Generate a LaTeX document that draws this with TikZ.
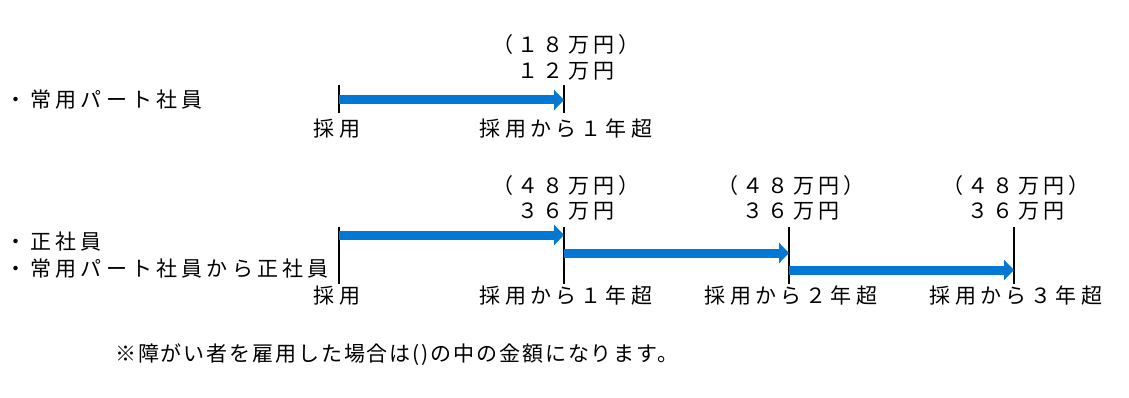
\documentclass[tikz,border=0pt]{standalone}
\usepackage{fontspec}
\setmainfont{Noto Sans CJK JP}[LetterSpace=20]
\newfontfamily\notefont{Noto Sans CJK JP}[LetterSpace=9]
\usetikzlibrary{arrows.meta}
\definecolor{arrowblue}{HTML}{0078D4}
\tikzset{
  lbl/.style={inner sep=0pt, text height=0.88em, text depth=0.12em, font=\fontsize{21}{21}\selectfont},
  tick/.style={line width=2pt, black},
  flow/.style={line width=9pt, arrowblue, -{Triangle[width=20pt,length=10pt]}, shorten >=0pt},
}
\begin{document}
\begin{tikzpicture}[x=1pt,y=-1pt]
\useasboundingbox[fill=white] (0,0) rectangle (1129,398);
% ---- row 1
\node[lbl, anchor=west] (r1name) at (5,104) {・常用パート社員};
\coordinate (a1t) at (339,85); \coordinate (a1b) at (339,113);
\coordinate (b1t) at (564,85); \coordinate (b1b) at (564,113);
\draw[tick] (a1t) -- (a1b);
\draw[tick] (b1t) -- (b1b);
\coordinate (a1m) at (339,100); \coordinate (b1m) at (564,100);
\draw[flow] (a1m) -- (b1m);
\node[lbl] (r1amt2) at (566,49) {（１８万円）};
\node[lbl] (r1amt1) at (566,75) {１２万円};
\node[lbl] (r1s) at (337,133) {採用};
\node[lbl] (r1e) at (566,133) {採用から１年超};
% ---- row 2
\node[lbl, anchor=west] (r2name1) at (5,246) {・正社員};
\node[lbl, anchor=west] (r2name2) at (5,273) {・常用パート社員から正社員};
\coordinate (a2t) at (339,227); \coordinate (a2b) at (339,284);
\coordinate (b2t) at (564,227); \coordinate (b2b) at (564,284);
\coordinate (c2t) at (789,227); \coordinate (c2b) at (789,284);
\coordinate (d2t) at (1014,227); \coordinate (d2b) at (1014,284);
\foreach \p in {a2,b2,c2,d2} {\draw[tick] (\p t) -- (\p b);}
\coordinate (a2m) at (339,235); \coordinate (b2m) at (564,235);
\coordinate (b2n) at (564,253); \coordinate (c2n) at (789,253);
\coordinate (c2o) at (789,270); \coordinate (d2o) at (1014,270);
\draw[flow] (a2m) -- (b2m);
\draw[flow] (b2n) -- (c2n);
\draw[flow] (c2o) -- (d2o);
\node[lbl] (p1) at (566,190) {（４８万円）};
\node[lbl] (q1) at (566,215) {３６万円};
\node[lbl] (p2) at (791,190) {（４８万円）};
\node[lbl] (q2) at (791,215) {３６万円};
\node[lbl] (p3) at (1016,190) {（４８万円）};
\node[lbl] (q3) at (1016,215) {３６万円};
\node[lbl] (s2) at (337,300) {採用};
\node[lbl] (e1) at (566,300) {採用から１年超};
\node[lbl] (e2) at (791,300) {採用から２年超};
\node[lbl] (e3) at (1016,300) {採用から３年超};
% ---- note
\node[inner sep=0pt, text height=0.88em, text depth=0.12em, anchor=west, font=\notefont\fontsize{21}{21}\selectfont] (note) at (115,358) {※障がい者を雇用した場合は()の中の金額になります。};
\end{tikzpicture}
\end{document}
